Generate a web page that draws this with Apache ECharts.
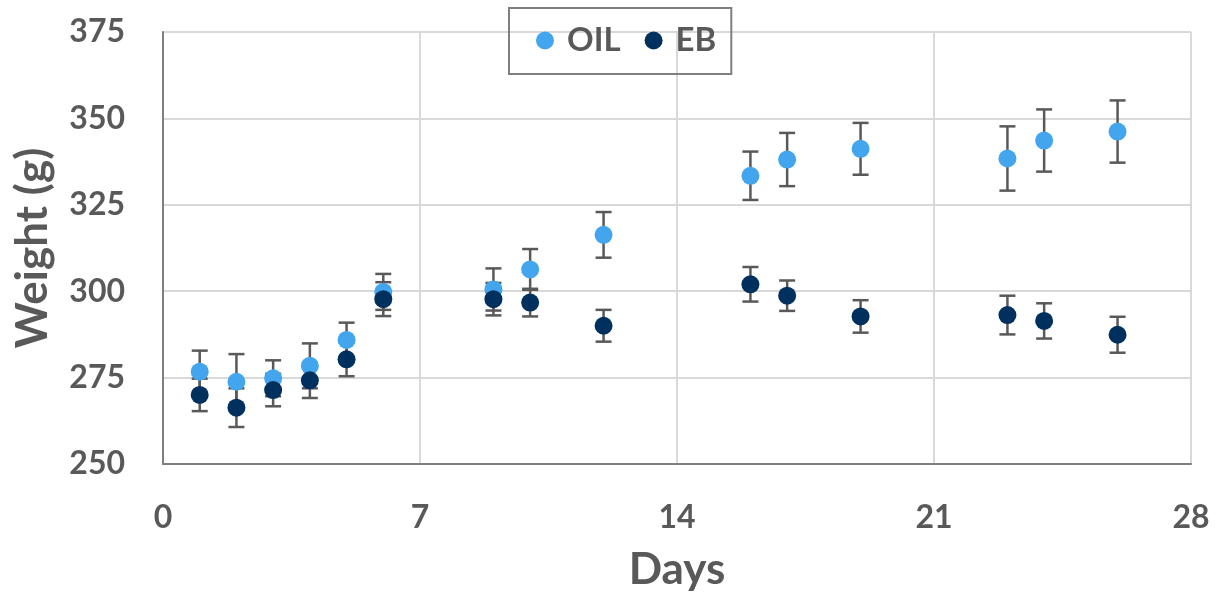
<!DOCTYPE html>
<html>
<head>
<meta charset="utf-8">
<script src="https://cdn.jsdelivr.net/npm/echarts@6/dist/echarts.min.js"></script>
<style>
html,body{margin:0;padding:0;background:#fff;}
#chart{width:1227px;height:597px;}
</style>
</head>
<body>
<div id="chart"></div>
<script>
// Data
const days   = [1, 2, 3, 4, 5, 6, 9, 10, 12, 16, 17, 19, 23, 24, 26];
const oilMean = [276.7, 273.8, 274.8, 278.4, 285.9, 299.8, 300.5, 306.3, 316.3, 333.4, 338.1, 341.2, 338.4, 343.6, 346.2];
const oilErr  = [6.1, 8.0, 5.2, 6.5, 5.0, 5.2, 6.1, 5.9, 6.6, 7.0, 7.7, 7.5, 9.3, 9.0, 9.0];
const ebMean  = [270.0, 266.3, 271.4, 274.2, 280.3, 297.7, 297.7, 296.7, 290.0, 302.0, 298.7, 292.7, 293.1, 291.4, 287.4];
const ebErr   = [4.7, 5.6, 4.7, 5.1, 4.9, 4.9, 4.7, 4.0, 4.6, 5.0, 4.4, 4.7, 5.6, 5.1, 5.2];
const xTicks = [0, 7, 14, 21, 28];
const yTicks = [250, 275, 300, 325, 350, 375];

const oilColor = '#42A5EE';
const ebColor  = '#00305E';
const textColor = '#595959';
const fontFam = 'Lato, "Open Sans", sans-serif';

const pts = (mean) => days.map((d, i) => [d, mean[i]]);
const errs = (mean, err) => days.map((d, i) => [d, mean[i] - err[i], mean[i] + err[i]]);

function errRender(params, api) {
  const x = api.value(0);
  const lo = api.coord([x, api.value(1)]);
  const hi = api.coord([x, api.value(2)]);
  const hw = 8;
  const style = { stroke: '#595959', lineWidth: 2.5 };
  return {
    type: 'group',
    children: [
      { type: 'line', shape: { x1: lo[0], y1: lo[1], x2: hi[0], y2: hi[1] }, style },
      { type: 'line', shape: { x1: lo[0] - hw, y1: lo[1], x2: lo[0] + hw, y2: lo[1] }, style },
      { type: 'line', shape: { x1: hi[0] - hw, y1: hi[1], x2: hi[0] + hw, y2: hi[1] }, style }
    ]
  };
}

const chart = echarts.init(document.getElementById('chart'), null, { renderer: 'canvas' });
chart.setOption({
  backgroundColor: '#ffffff',
  animation: false,
  grid: { left: 163, right: 36, top: 32, bottom: 133, containLabel: false },
  legend: {
    data: ['OIL', 'EB'],
    left: 509, top: 8,
    padding: [16, 15, 17, 27],
    itemGap: 24,
    itemWidth: 18, itemHeight: 18,
    icon: 'circle',
    borderColor: '#7f7f7f', borderWidth: 2,
    textStyle: { color: textColor, fontSize: 33, fontWeight: 'bold', fontFamily: fontFam, padding: [0, 0, 0, 8] }
  },
  xAxis: {
    type: 'value', min: 0, max: 28, interval: 7,
    name: 'Days', nameLocation: 'middle', nameGap: 84,
    nameTextStyle: { color: textColor, fontSize: 44, fontWeight: 'bold', fontFamily: fontFam },
    axisLine: { show: true, onZero: false, lineStyle: { color: '#7f7f7f', width: 2 } },
    axisTick: { show: false },
    axisLabel: { color: textColor, fontSize: 32, fontWeight: 'bold', fontFamily: fontFam, margin: 38,
      formatter: (v) => xTicks.includes(v) ? String(v) : '' },
    splitLine: { show: true, lineStyle: { color: '#d9d9d9', width: 2 } }
  },
  yAxis: {
    type: 'value', min: 250, max: 375, interval: 25,
    name: 'Weight (g)', nameLocation: 'middle', nameGap: 108, nameRotate: 90,
    nameTextStyle: { color: textColor, fontSize: 44, fontWeight: 'bold', fontFamily: fontFam },
    axisLine: { show: true, onZero: false, lineStyle: { color: '#7f7f7f', width: 2 } },
    axisTick: { show: false },
    axisLabel: { color: textColor, fontSize: 32, fontWeight: 'bold', fontFamily: fontFam, margin: 38,
      formatter: (v) => yTicks.includes(v) ? String(v) : '' },
    splitLine: { show: true, lineStyle: { color: '#d9d9d9', width: 2 } }
  },
  series: [
    { name: 'EB err', type: 'custom', renderItem: errRender, data: errs(ebMean, ebErr), z: 1, silent: true },
    { name: 'OIL err', type: 'custom', renderItem: errRender, data: errs(oilMean, oilErr), z: 1, silent: true },
    { name: 'OIL', type: 'scatter', data: pts(oilMean), symbol: 'circle', symbolSize: 18,
      itemStyle: { color: oilColor, opacity: 1 }, z: 3 },
    { name: 'EB', type: 'scatter', data: pts(ebMean), symbol: 'circle', symbolSize: 18,
      itemStyle: { color: ebColor, opacity: 1 }, z: 4 }
  ]
});
</script>
</body>
</html>
